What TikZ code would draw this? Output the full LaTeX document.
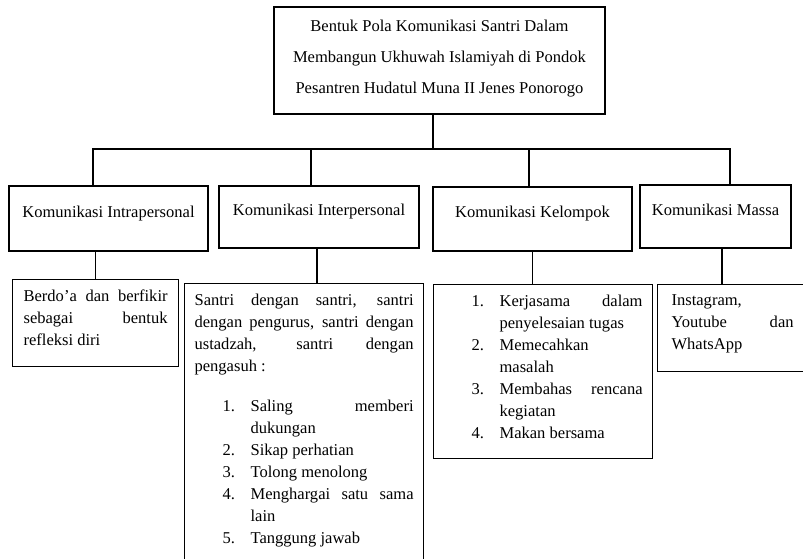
\documentclass[tikz,border=0pt]{standalone}
\usepackage{fontspec}
\setmainfont{Liberation Serif}
\usetikzlibrary{positioning}
\tikzset{
    basic/.style  = {draw, line width=0.9pt, rectangle, font=\fontsize{12.4pt}{16.5pt}\selectfont},
    judul/.style  = {basic, align=center, minimum width=248.25pt, minimum height=80.25pt, text depth=6pt, font=\fontsize{12.4pt}{23.25pt}\selectfont},
    bentuk/.style = {basic, text height=8.5pt, text depth=10pt},
    isi/.style    = {basic, anchor=north west, inner xsep=7.5pt, inner ysep=7.6pt},
    garis/.style  = {line width=0.9pt}
}
\newcommand{\butir}[2]{\par\noindent\hangindent=42pt\hangafter=1\hspace*{21pt}\makebox[21pt][l]{#1}#2}

\begin{document}
\begin{tikzpicture}[x=0.75pt, y=-0.75pt]
	\useasboundingbox (0,0) rectangle (803,559);
	\clip (0,0) rectangle (803,559);

	\node[judul] (judul) at (439.5,60.5) {Bentuk Pola Komunikasi Santri Dalam\\Membangun Ukhuwah Islamiyah di Pondok\\Pesantren Hudatul Muna II Jenes Ponorogo};

	\node[bentuk, minimum width=149.25pt, minimum height=48.75pt] (intra) at (108.5,218.5) {Komunikasi Intrapersonal};
	\node[bentuk, minimum width=150pt, minimum height=46.5pt] (inter) at (319,217) {Komunikasi Interpersonal};
	\node[bentuk, minimum width=149.25pt, minimum height=48pt] (kelompok) at (532.5,219) {Komunikasi Kelompok};
	\node[bentuk, minimum width=113.25pt, minimum height=47.25pt] (massa) at (715.5,216.5) {Komunikasi Massa};

	\node[isi, inner xsep=8.25pt] (isiintra) at (12,279) {\parbox[t][50pt][t]{108pt}{Berdo’a dan berfikir\linebreak sebagai bentuk\linebreak refleksi diri}};
	\node[isi] (isiinter) at (184,283) {\parbox[t][207pt][t]{164.25pt}{Santri dengan santri, santri\linebreak dengan pengurus, santri dengan\linebreak ustadzah, santri dengan\linebreak pengasuh :\par\vspace{13.5pt}
		\butir{1.}{Saling memberi\linebreak dukungan}
		\butir{2.}{Sikap perhatian}
		\butir{3.}{Tolong menolong}
		\butir{4.}{Menghargai satu sama\linebreak lain}
		\butir{5.}{Tanggung jawab}}};
	\node[isi] (isikelompok) at (433,284) {\parbox[t][115.3pt][t]{149.25pt}{%
		\butir{1.}{Kerjasama dalam\linebreak penyelesaian tugas}
		\butir{2.}{Memecahkan\linebreak masalah}
		\butir{3.}{Membahas rencana\linebreak kegiatan}
		\butir{4.}{Makan bersama}}};
	\node[isi, inner xsep=10.5pt] (isimassa) at (657,284) {\parbox[t][50pt][t]{91.5pt}{Instagram,\linebreak Youtube dan\linebreak WhatsApp}};

	\coordinate (bar) at (433,149);
	\draw[garis] (judul.south -| bar) -- (bar);
	\draw[garis] ([xshift=-11.6pt]intra.north) |- (bar);
	\draw[garis] ([xshift=-6pt]inter.north) |- (bar);
	\draw[garis] ([xshift=-2.6pt]kelompok.north) |- (bar);
	\draw[garis] ([xshift=10.9pt]massa.north) |- (bar);

	\draw[garis] (isiintra.north |- intra.south) -- (isiintra.north);
	\draw[garis] ([xshift=-1.5pt]inter.south) -- ([xshift=-1.5pt]inter.south |- isiinter.north);
	\draw[garis] (kelompok.south) -- (kelompok.south |- isikelompok.north);
	\draw[garis] ([xshift=4.9pt]massa.south) -- ([xshift=4.9pt]massa.south |- isimassa.north);
\end{tikzpicture}
\end{document}
